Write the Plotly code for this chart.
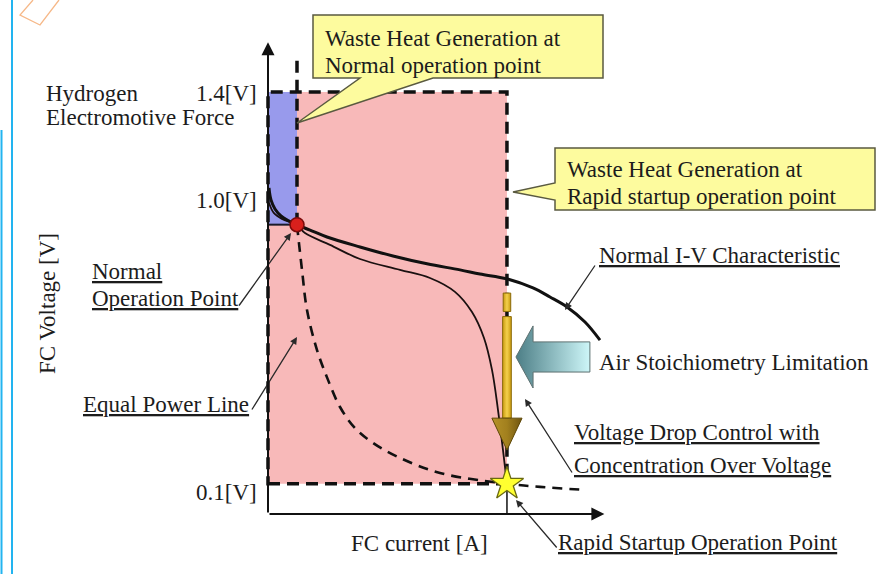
import plotly.graph_objects as go

# ---- operating parameters (current in arbitrary units, voltage in V) ----
E_H2 = 1.4        # hydrogen electromotive force
I_NORMAL = 1.0    # normal operation point
V_NORMAL = 0.96
I_RAPID = 8.24    # rapid startup operation point
V_RAPID = 0.1

# normal I-V characteristic
iv_normal_I = [0.034, 0.103, 0.241, 0.448, 0.724, 1.0, 1.448, 2.034, 3.172, 4.310,
               5.483, 6.621, 7.310, 8.241, 9.138, 9.724, 10.310, 10.931, 11.448]
iv_normal_V = [1.082, 1.042, 1.012, 0.989, 0.972, 0.959, 0.942, 0.919, 0.886, 0.856,
               0.830, 0.810, 0.796, 0.780, 0.750, 0.720, 0.687, 0.637, 0.577]

# I-V characteristic with voltage drop control (concentration over voltage)
iv_rapid_I = [0.034, 0.207, 0.483, 1.0, 1.276, 2.138, 3.172, 4.552, 5.586, 6.448,
              7.034, 7.448, 7.724, 7.931, 8.103, 8.24]
iv_rapid_V = [1.032, 0.998, 0.979, 0.959, 0.932, 0.893, 0.846, 0.810, 0.783, 0.737,
              0.670, 0.584, 0.478, 0.345, 0.212, 0.1]

# equal power line through the normal operation point
equal_power_I = [1.0, 1.172, 1.345, 1.690, 2.069, 2.483, 3.0, 3.621, 4.552, 5.931,
                 8.0, 9.379, 10.931]
equal_power_V = [0.959, 0.810, 0.677, 0.544, 0.445, 0.355, 0.285, 0.236, 0.186, 0.136,
                 0.103, 0.090, 0.080]

tick_labels = ["1.4[V]", "1.0[V]", "0.1[V]"]

W, H = 892, 574
FONT = "Liberation Serif, Times New Roman, Tinos, DejaVu Serif, serif"
FONT_SIZE = 23


def paper(px, py):
    return px / W, 1 - py / H


def path_paper(pts):
    return "M " + " L ".join(f"{x / W:.5f},{1 - y / H:.5f}" for x, y in pts) + " Z"


fig = go.Figure()

# ---- regions of waste heat ----
shapes = [
    dict(type="rect", xref="x", yref="y", x0=0, x1=I_RAPID, y0=V_RAPID, y1=E_H2,
         fillcolor="#F8B9B9", line=dict(width=0), layer="below"),
    dict(type="rect", xref="x", yref="y", x0=0, x1=I_NORMAL, y0=V_NORMAL, y1=E_H2,
         fillcolor="#989AEC", line=dict(width=0), layer="below"),
    dict(type="line", xref="x", yref="y", x0=0, x1=I_NORMAL, y0=V_NORMAL, y1=V_NORMAL,
         line=dict(color="#1a1a2a", width=2), layer="below"),
    dict(type="rect", xref="x", yref="y", x0=0, x1=I_RAPID, y0=V_RAPID, y1=E_H2,
         fillcolor="rgba(0,0,0,0)", line=dict(color="#111", width=3.5, dash="12px,7px"),
         layer="below"),
    dict(type="line", xref="x", yref="y", x0=I_NORMAL, x1=I_NORMAL, y0=V_NORMAL, y1=1.506,
         line=dict(color="#111", width=3.5, dash="12px,7px"), layer="below"),
    dict(type="line", xref="x", yref="y", x0=I_RAPID, x1=I_RAPID, y0=0, y1=V_RAPID,
         line=dict(color="#111", width=1.5), layer="below"),
]

# ---- curves ----
fig.add_trace(go.Scatter(x=equal_power_I, y=equal_power_V, mode="lines",
                         line=dict(color="#111", width=2.6, dash="10px,7px",
                                   shape="spline", smoothing=1.0),
                         hoverinfo="skip"))
fig.add_trace(go.Scatter(x=iv_rapid_I, y=iv_rapid_V, mode="lines",
                         line=dict(color="#1a1010", width=1.8, shape="spline", smoothing=1.0),
                         hoverinfo="skip"))
fig.add_trace(go.Scatter(x=iv_normal_I, y=iv_normal_V, mode="lines",
                         line=dict(color="#111", width=3, shape="spline", smoothing=1.0),
                         hoverinfo="skip"))

# ---- air stoichiometry limitation arrow (points left) ----
ax_tip, ax_neck, ax_end = I_RAPID + 0.31, I_RAPID + 0.90, I_RAPID + 2.86
ay_mid, ay_body, ay_head = 0.521, 0.050, 0.103
fig.add_trace(go.Scatter(
    x=[ax_tip, ax_neck, ax_neck, ax_end, ax_end, ax_neck, ax_neck, ax_tip],
    y=[ay_mid, ay_mid + ay_head, ay_mid + ay_body, ay_mid + ay_body,
       ay_mid - ay_body, ay_mid - ay_body, ay_mid - ay_head, ay_mid],
    mode="lines", fill="toself",
    fillgradient=dict(type="horizontal", colorscale=[[0, "#4C7E86"], [1, "#CDF6F8"]]),
    line=dict(color="#5d7070", width=1), hoverinfo="skip"))

# ---- voltage drop arrow (points down) ----
hw_shaft, hw_head = 0.15, 0.52
gold = [[0, "#C89A10"], [0.5, "#F4D04C"], [1, "#C89A10"]]
fig.add_trace(go.Scatter(
    x=[I_RAPID - 0.13, I_RAPID + 0.13, I_RAPID + 0.13, I_RAPID - 0.13, I_RAPID - 0.13],
    y=[0.733, 0.733, 0.672, 0.672, 0.733],
    mode="lines", fill="toself",
    fillgradient=dict(type="horizontal", colorscale=gold),
    line=dict(color="#8a6a08", width=1), hoverinfo="skip"))
fig.add_trace(go.Scatter(
    x=[I_RAPID - hw_shaft, I_RAPID + hw_shaft, I_RAPID + hw_shaft, I_RAPID - hw_shaft,
       I_RAPID - hw_shaft],
    y=[0.655, 0.655, 0.318, 0.318, 0.655],
    mode="lines", fill="toself",
    fillgradient=dict(type="horizontal", colorscale=gold),
    line=dict(color="#8a6a08", width=1), hoverinfo="skip"))
fig.add_trace(go.Scatter(
    x=[I_RAPID - hw_head, I_RAPID + hw_head, I_RAPID, I_RAPID - hw_head],
    y=[0.318, 0.318, 0.212, 0.318],
    mode="lines", fill="toself",
    fillgradient=dict(type="horizontal",
                      colorscale=[[0, "#B59128"], [0.5, "#A2801E"], [1, "#6E5410"]]),
    line=dict(color="#5e4808", width=1), hoverinfo="skip"))

# ---- operation points ----
fig.add_trace(go.Scatter(x=[I_NORMAL], y=[V_NORMAL], mode="markers",
                         marker=dict(size=14, color="#D8201C",
                                     line=dict(color="#7a0a0a", width=1.5)),
                         hoverinfo="skip"))
fig.add_trace(go.Scatter(x=[I_RAPID], y=[V_RAPID], mode="markers",
                         marker=dict(symbol="star", size=25, color="#FFFF30",
                                     line=dict(color="#6a6a10", width=1.3)),
                         hoverinfo="skip"))

# ---- callout boxes ----
callout_fill = "#FDFB9E"
callout_line = dict(color="#5a5a40", width=1.5)
shapes += [
    dict(type="path", xref="paper", yref="paper", layer="above",
         path=path_paper([(313, 15), (603, 15), (603, 78), (433, 78), (297, 123),
                          (360, 78), (313, 78)]),
         fillcolor=callout_fill, line=callout_line),
    dict(type="path", xref="paper", yref="paper", layer="above",
         path=path_paper([(555, 148), (875, 148), (875, 210), (555, 210), (555, 200),
                          (513, 192), (555, 183)]),
         fillcolor=callout_fill, line=callout_line),
    # page edge rules
    dict(type="line", xref="paper", yref="paper", x0=12 / W, x1=12 / W, y0=0, y1=1,
         line=dict(color="#22B4F0", width=2)),
    dict(type="line", xref="paper", yref="paper", x0=1.5 / W, x1=1.5 / W, y0=0,
         y1=1 - 130 / H, line=dict(color="#22B4F0", width=2)),
    dict(type="path", xref="paper", yref="paper",
         path="M " + " L ".join(f"{x / W:.5f},{1 - y / H:.5f}"
                                for x, y in [(33, 0), (20, 15), (40, 25), (59, 0)]),
         line=dict(color="#F6B888", width=1.3)),
]

annotations = []


def text(s, px, py, xanchor="left", **kw):
    x, y = paper(px, py)
    annotations.append(dict(text=s, x=x, y=y, xref="paper", yref="paper",
                            xanchor=xanchor, yanchor="middle", showarrow=False,
                            font=dict(family=FONT, size=FONT_SIZE, color="#1c1c1c"), **kw))


def leader(start, tip):
    x, y = paper(*tip)
    annotations.append(dict(text="", x=x, y=y, xref="paper", yref="paper",
                            ax=start[0] - tip[0], ay=start[1] - tip[1],
                            showarrow=True, arrowhead=2, arrowsize=1.1, arrowwidth=1.3,
                            arrowcolor="#2a2a2a", standoff=0))


text("Waste Heat Generation at", 323, 38)
text("Normal operation point", 323, 66)
text("Waste Heat Generation at", 565, 169)
text("Rapid startup operation point", 565, 196)
text("Hydrogen", 44, 93)
text("Electromotive Force", 44, 117)
text(tick_labels[0], 259, 94, xanchor="right")
text(tick_labels[1], 259, 200, xanchor="right")
text(tick_labels[2], 259, 492, xanchor="right")
text("FC current [A]", 419, 543, xanchor="center")
text("<u>Normal</u>", 90, 271)
text("<u>Operation Point</u>", 90, 298)
text("<u>Equal Power Line</u>", 81, 404)
text("<u>Normal I-V Characteristic</u>", 597, 255)
text("Air Stoichiometry Limitation", 597, 362)
text("<u>Voltage Drop Control with</u>", 572, 432)
text("<u>Concentration Over Voltage</u>", 572, 465)
text("<u>Rapid Startup Operation Point</u>", 556, 542)
x_lab, y_lab = paper(47, 304)
annotations.append(dict(text="FC Voltage [V]", x=x_lab, y=y_lab, xref="paper", yref="paper",
                        textangle=-90, showarrow=False, xanchor="center", yanchor="middle",
                        font=dict(family=FONT, size=FONT_SIZE, color="#1c1c1c")))

leader((238, 307), (291, 233))
leader((251, 411), (297, 337))
leader((596, 264), (565, 310))
leader((573, 474), (525, 399))
leader((558, 549), (516, 500))

# ---- axes with arrowheads ----
annotations.append(dict(text="", x=0, y=1.565, xref="x", yref="y", ax=0, ay=0,
                        axref="x", ayref="y", showarrow=True, arrowhead=2,
                        arrowsize=1.3, arrowwidth=2, arrowcolor="#111", standoff=0))
annotations.append(dict(text="", x=11.6, y=0, xref="x", yref="y", ax=0, ay=0,
                        axref="x", ayref="y", showarrow=True, arrowhead=2,
                        arrowsize=1.3, arrowwidth=2, arrowcolor="#111", standoff=0))

fig.update_layout(
    width=W, height=H, margin=dict(l=0, r=0, t=0, b=0),
    paper_bgcolor="white", plot_bgcolor="white", showlegend=False,
    xaxis=dict(range=[-268 / 29, 624 / 29], visible=False, fixedrange=True),
    yaxis=dict(range=[-60 / 301.4, 514 / 301.4], visible=False, fixedrange=True),
    shapes=shapes, annotations=annotations,
)

fig.write_html("out.html")
